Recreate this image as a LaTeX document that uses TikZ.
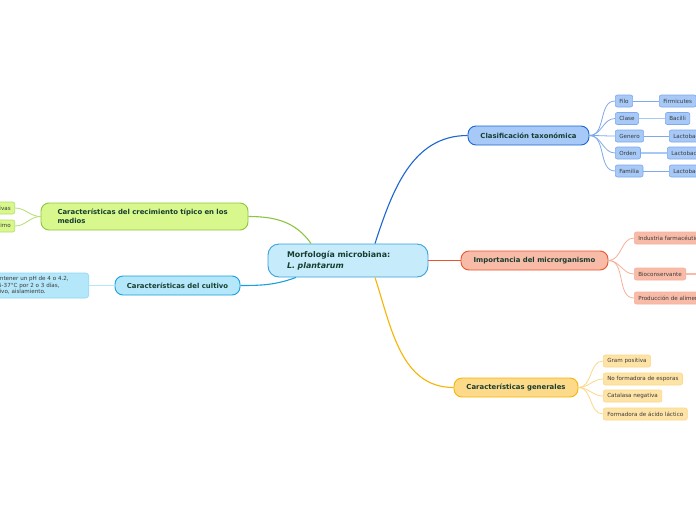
\documentclass[tikz,border=0pt]{standalone}
\usepackage{fontspec}
\setmainfont{DejaVu Sans}
\usepackage{tikz}
\usepackage{xcolor}

\definecolor{topictext}{HTML}{173D30}
\definecolor{leaftext}{HTML}{3A3A3A}
\definecolor{rootfill}{HTML}{C6ECFB}
\definecolor{rootline}{HTML}{3AA0DC}
\definecolor{taxfill}{HTML}{A7C9F7}
\definecolor{taxline}{HTML}{1B66D0}
\definecolor{taxsoft}{HTML}{7EA9EC}
\definecolor{impfill}{HTML}{F8BBA8}
\definecolor{impline}{HTML}{EA552C}
\definecolor{impsoft}{HTML}{F7B09A}
\definecolor{genfill}{HTML}{FDDA8A}
\definecolor{genline}{HTML}{F6B500}
\definecolor{gensoft}{HTML}{FCD88A}
\definecolor{crefill}{HTML}{D8F78C}
\definecolor{creline}{HTML}{8CC63F}
\definecolor{cresoft}{HTML}{B5DE6E}
\definecolor{culfill}{HTML}{B4E7F9}
\definecolor{culline}{HTML}{1A9FE0}
\definecolor{culsoft}{HTML}{8FD6F4}

\begin{document}
\begin{tikzpicture}[x=1pt,y=-1pt,
  every node/.style={font=\fontsize{5.6}{6.9}\selectfont, text=leaftext},
  root/.style={draw=rootline, fill=rootfill, line width=0.9pt, rounded corners=11pt,
    minimum width=160pt, minimum height=33pt, align=left, text width=122pt,
    font=\fontsize{7.9}{10.5}\selectfont\bfseries, text=topictext},
  topic/.style={rounded corners=8pt, line width=0.9pt, minimum height=19pt,
    font=\fontsize{6.9}{8.5}\selectfont\bfseries, text=topictext},
  leaf/.style={rounded corners=2pt, line width=0.6pt, minimum height=12pt,
    inner xsep=4pt, inner ysep=1pt},
  branch/.style={line width=1.1pt},
  twig/.style={line width=0.8pt}]

\useasboundingbox (0,0) rectangle (696,520);
\fill[white] (0,0) rectangle (696,520);
\clip (0,0) rectangle (696,520);

\node[root] (root) at (348,260.5) {Morfología microbiana:\\\textit{L. plantarum}};

\node[topic, draw=taxline, fill=taxfill, minimum width=121pt] (tax) at (528.5,135.5) {Clasificación taxonómica};
\node[topic, draw=impline, fill=impfill, minimum width=147pt] (imp) at (534.5,260.5) {Importancia del microrganismo};
\node[topic, draw=genline, fill=genfill, minimum width=124pt] (gen) at (516,387.5) {Características generales};
\node[topic, draw=creline, fill=crefill, minimum width=207pt, minimum height=27pt,
  text width=174pt, align=left, font=\fontsize{6.9}{9}\selectfont\bfseries] (cre) at (144.5,216.5)
  {Características del crecimiento típico en los medios};
\node[topic, draw=culline, fill=culfill, minimum width=125pt] (cul) at (177.5,285.5) {Características del cultivo};

\draw[branch, taxline] ([xshift=27pt]root.north) to[out=72,in=180] (tax.west);
\draw[branch, impline] (root.east) -- (imp.west);
\draw[branch, genline] ([xshift=27pt]root.south) to[out=-72,in=180] (gen.west);
\draw[branch, creline] ([xshift=-37pt]root.north) to[out=125,in=0] (cre.east);
\draw[branch, culline] ([xshift=-52pt]root.south) to[out=200,in=0] (cul.east);

\node[leaf, draw=taxsoft, fill=taxfill, anchor=west] (filo) at (615,101) {Filo};
\node[leaf, draw=taxsoft, fill=taxfill, anchor=west] (clase) at (615,118.5) {Clase};
\node[leaf, draw=taxsoft, fill=taxfill, anchor=west] (genero) at (615,136) {Genero};
\node[leaf, draw=taxsoft, fill=taxfill, anchor=west] (orden) at (615,153) {Orden};
\node[leaf, draw=taxsoft, fill=taxfill, anchor=west] (familia) at (615,171) {Familia};
\node[leaf, draw=taxsoft, fill=taxfill, anchor=west] (firmi) at (659,101) {Firmicutes};
\node[leaf, draw=taxsoft, fill=taxfill, anchor=west] (bacilli) at (665,118.5) {Bacilli};
\node[leaf, draw=taxsoft, fill=taxfill, anchor=west] (lgenero) at (669,136) {Lactobacillus};
\node[leaf, draw=taxsoft, fill=taxfill, anchor=west] (lorden) at (667,153) {Lactobacillales};
\node[leaf, draw=taxsoft, fill=taxfill, anchor=west] (lfamilia) at (669,171) {Lactobacillaceae};

\draw[twig, taxsoft] (tax.east) to[out=0,in=180] (filo.west);
\draw[twig, taxsoft] (tax.east) to[out=0,in=180] (clase.west);
\draw[twig, taxsoft] (tax.east) to[out=0,in=180] (genero.west);
\draw[twig, taxsoft] (tax.east) to[out=0,in=180] (orden.west);
\draw[twig, taxsoft] (tax.east) to[out=0,in=180] (familia.west);
\draw[twig, taxsoft] (filo.east) -- (firmi.west);
\draw[line width=1.6pt, taxfill] (clase.east) -- (bacilli.west);
\draw[twig, taxsoft] (genero.east) -- (lgenero.west);
\draw[line width=1.6pt, taxfill] (orden.east) -- (lorden.west);
\draw[twig, taxsoft] (familia.east) -- (lfamilia.west);

\node[leaf, draw=impsoft, fill=impfill, anchor=west] (farma) at (634,238) {Industria farmacéutica};
\node[leaf, draw=impsoft, fill=impfill, anchor=west] (biocon) at (634,274) {Bioconservante};
\node[leaf, draw=impsoft, fill=impfill, anchor=west] (alim) at (634,298) {Producción de alimentos};
\coordinate (bioend) at (700,274);

\draw[twig, impsoft] (imp.east) to[out=0,in=180] (farma.west);
\draw[twig, impsoft] (imp.east) to[out=0,in=180] (biocon.west);
\draw[twig, impsoft] (imp.east) to[out=0,in=180] (alim.west);
\draw[line width=1.6pt, impfill] (biocon.east) -- (bioend);

\node[leaf, draw=gensoft, fill=genfill!75, anchor=west] (gram) at (603,361) {Gram positiva};
\node[leaf, draw=gensoft, fill=genfill!75, anchor=west] (espor) at (603,379) {No formadora de esporas};
\node[leaf, draw=gensoft, fill=genfill!75, anchor=west] (catal) at (603,396) {Catalasa negativa};
\node[leaf, draw=gensoft, fill=genfill!75, anchor=west] (lacti) at (603,414) {Formadora de ácido láctico};

\draw[twig, gensoft] (gen.east) to[out=0,in=180] (gram.west);
\draw[twig, gensoft] (gen.east) to[out=0,in=180] (espor.west);
\draw[twig, gensoft] (gen.east) to[out=0,in=180] (catal.west);
\draw[twig, gensoft] (gen.east) to[out=0,in=180] (lacti.west);

\node[leaf, draw=cresoft, fill=crefill, anchor=east] (facul) at (15,208) {Anaerobias facultativas};
\node[leaf, draw=cresoft, fill=crefill, anchor=east] (optimo) at (15,226) {Crecimiento óptimo};

\draw[twig, cresoft] (cre.west) to[out=180,in=0] (facul.east);
\draw[twig, cresoft] (cre.west) to[out=180,in=0] (optimo.east);

\node[leaf, draw=culsoft, fill=culfill, anchor=east, align=left, rounded corners=3pt,
  minimum height=25pt, inner ysep=2pt] (medio) at (89,285.5)
  {Se debe mantener un pH de 4 o 4.2,\hspace*{16pt}\\incubar a 35-37°C por 2 o 3 días,\\para su cultivo, aislamiento.};

\draw[line width=1.6pt, culfill] (cul.west) -- (medio.east);
\end{tikzpicture}
\end{document}
